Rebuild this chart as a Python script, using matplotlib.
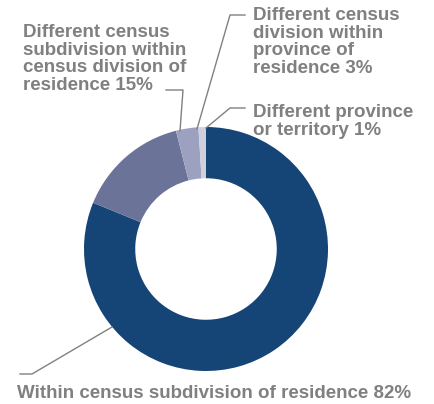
import matplotlib.pyplot as plt

# Data
labels = [
    "Within census subdivision of residence 82%",
    "Different census\nsubdivision within\ncensus division of\nresidence 15%",
    "Different census\ndivision within\nprovince of\nresidence 3%",
    "Different province\nor territory 1%",
]
shares = [82, 15, 3, 1]
colors = ["#154476", "#6b7399", "#9da1c0", "#cfd0dc"]

TEXT_GREY = "#808080"
W, H = 434, 404

fig = plt.figure(figsize=(W / 100, H / 100), dpi=100)
ax = fig.add_axes([0, 0, 1, 1])

R = 122
ax.pie(shares, colors=colors, startangle=90, counterclock=False,
       center=(206, H - 249), radius=R,
       wedgeprops=dict(width=R * 0.42, linewidth=0))
ax.set_xlim(0, W)
ax.set_ylim(0, H)
ax.set_aspect("auto")
ax.axis("off")

font = dict(family="Liberation Sans", fontweight="bold", fontsize=13.5,
            color=TEXT_GREY, linespacing=1.04)

# label text positions (pixel coords, top-left anchored)
ax.text(17, H - 385, labels[0], va="top", ha="left", **font)
ax.text(23, H - 24, labels[1], va="top", ha="left", **font)
ax.text(253, H - 7, labels[2], va="top", ha="left", **font)
ax.text(253, H - 104, labels[3], va="top", ha="left", **font)

# leader lines
leaders = [
    [(20, 374), (32, 374), (112, 327)],
    [(166, 90), (183, 90), (180, 131)],
    [(245, 15), (230, 15), (197, 129)],
    [(245, 108), (230, 108), (206, 128)],
]
for pts in leaders:
    xs = [p[0] for p in pts]
    ys = [H - p[1] for p in pts]
    ax.plot(xs, ys, color=TEXT_GREY, lw=1.0)

fig.savefig("out.png", dpi=100)
